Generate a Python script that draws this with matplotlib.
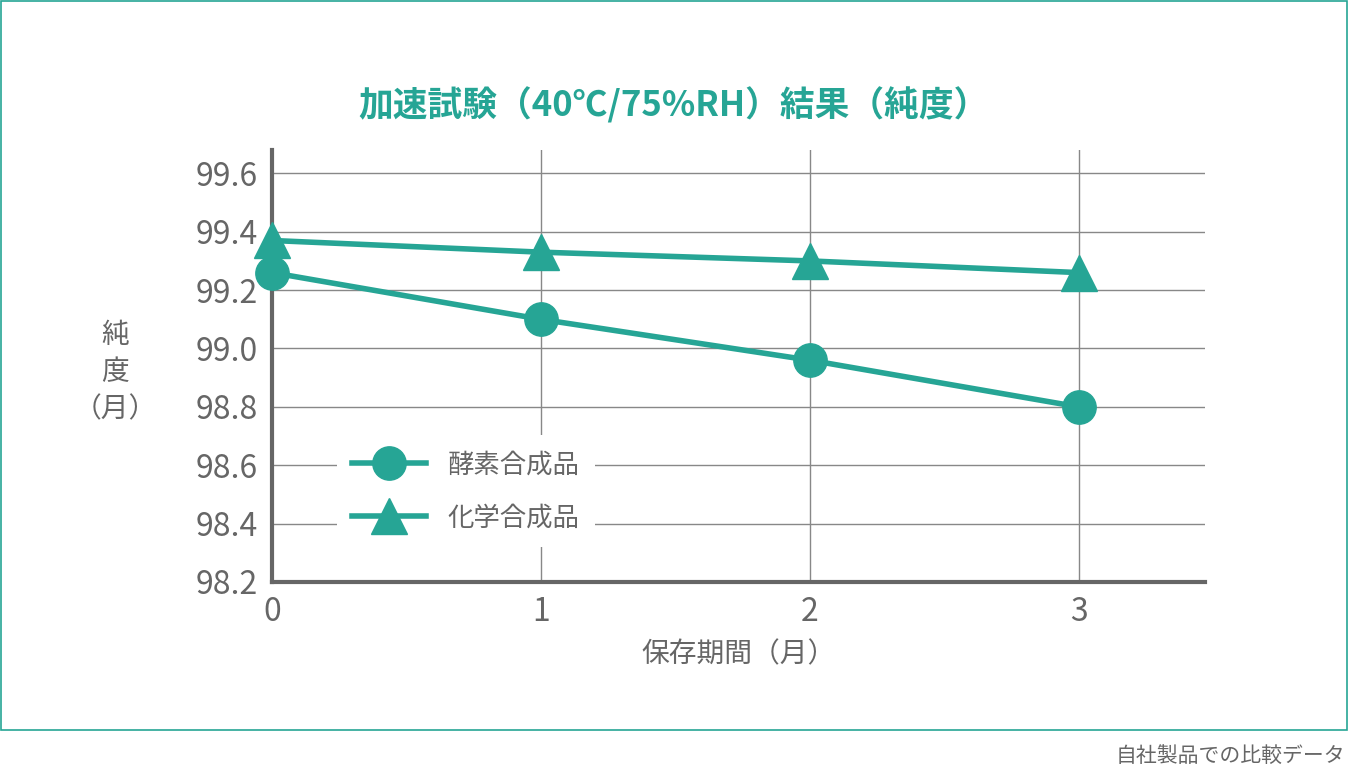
import matplotlib.pyplot as plt
from matplotlib.patches import Rectangle

plt.rcParams['font.family'] = ['Noto Sans CJK JP', 'DejaVu Sans']

months = [0, 1, 2, 3]
enzyme = [99.26, 99.10, 98.96, 98.80]
chemical = [99.37, 99.33, 99.30, 99.26]
yticks = [98.2, 98.4, 98.6, 98.8, 99.0, 99.2, 99.4, 99.6]

teal = '#26a595'
gray = '#666666'

fig = plt.figure(figsize=(13.48, 7.74), dpi=100)
fig.patches.append(Rectangle((0.0008, 44 / 774), 0.9985, 729 / 774, transform=fig.transFigure,
                             fill=False, edgecolor=teal, linewidth=1.2))

ax = fig.add_axes([272 / 1348, 192 / 774, 933 / 1348, 432 / 774])
ax.set_xlim(0, 3.47)
ax.set_ylim(98.2, 99.68)
ax.set_xticks(months)
ax.set_yticks(yticks)
ax.set_yticklabels([f'{v:.1f}' for v in yticks])
ax.grid(True, color='#888888', linewidth=1)
ax.set_axisbelow(True)
for s in ['top', 'right']:
    ax.spines[s].set_visible(False)
for s in ['left', 'bottom']:
    ax.spines[s].set_color(gray)
    ax.spines[s].set_linewidth(3)
ax.tick_params(length=0, labelsize=23, colors=gray, pad=10)

ax.plot(months, enzyme, color=teal, lw=4, marker='o', ms=24, label='酵素合成品', clip_on=False, zorder=3)
ax.plot(months, chemical, color=teal, lw=4, marker='^', ms=26, label='化学合成品', clip_on=False, zorder=3)

leg = ax.legend(loc='upper left', bbox_to_anchor=(0.055, 0.37), frameon=True, fontsize=19,
                handlelength=2.8, labelspacing=1.0, labelcolor=gray, borderpad=0.6)
leg.get_frame().set_edgecolor('none')
leg.get_frame().set_facecolor('white')
leg.get_frame().set_alpha(1)

ax.set_xlabel('保存期間（月）', fontsize=20, color=gray, labelpad=8)
fig.text(115 / 1348, 1 - 372 / 774, '純\n度\n（月）', fontsize=20, color=gray,
         ha='center', va='center', linespacing=1.3)
fig.text(0.5, 1 - 105 / 774, '加速試験（40℃/75%RH）結果（純度）', fontsize=25, color=teal,
         ha='center', va='center', fontweight='bold')
fig.text(1345 / 1348, 1 - 756 / 774, '自社製品での比較データ', fontsize=15, color=gray,
         ha='right', va='center')

fig.savefig('out.png', dpi=100)
